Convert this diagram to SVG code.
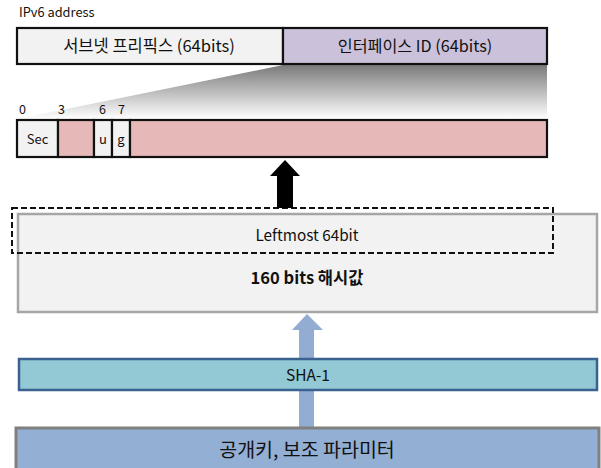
<svg xmlns="http://www.w3.org/2000/svg" width="601" height="468" viewBox="0 0 601 468">
<style>
text{font-family:"Noto Sans CJK KR","Liberation Sans",sans-serif;fill:#111}
.c{text-anchor:middle}
.bk{stroke:#111;stroke-width:2.2}
</style>
<defs>
<linearGradient id="fade" x1="0" y1="0" x2="0" y2="1">
<stop offset="0" stop-color="#7a7a7a"/>
<stop offset="1" stop-color="#ffffff"/>
</linearGradient>
</defs>
<rect width="601" height="468" fill="#fff"/>
<text x="19" y="17" font-size="12.8">IPv6 address</text>
<path d="M283,65 L547,65 L547,119 L17,119 Z" fill="url(#fade)"/>
<g id="ipv6">
<rect x="17" y="28" width="266" height="36" fill="#f2f2f2" class="bk"/>
<rect x="283" y="28" width="264" height="36" fill="#ccc1da" class="bk"/>
<text x="149" y="52" font-size="16.5" class="c">서브넷 프리픽스 (64bits)</text>
<text x="415" y="52" font-size="16.2" class="c">인터페이스 ID (64bits)</text>
</g>
<g id="iid" font-size="12.5">
<text x="19" y="114">0</text>
<text x="58" y="114">3</text>
<text x="99" y="114">6</text>
<text x="118" y="114">7</text>
<rect x="17" y="120" width="41" height="37" fill="#f2f2f2" class="bk"/>
<rect x="58" y="120" width="36" height="37" fill="#e6b8b7" class="bk"/>
<rect x="94" y="120" width="18" height="37" fill="#f2f2f2" class="bk"/>
<rect x="112" y="120" width="18" height="37" fill="#f2f2f2" class="bk"/>
<rect x="130" y="120" width="417" height="37" fill="#e6b8b7" class="bk"/>
<text x="37.5" y="144" font-size="13" class="c">Sec</text>
<text x="103" y="144" font-size="13" class="c">u</text>
<text x="121" y="144" font-size="13" class="c">g</text>
</g>
<g id="hash">
<rect x="18" y="214" width="579" height="98" fill="#f2f2f2" stroke="#a6a6a6" stroke-width="2.5"/>
<text x="307" y="241" font-size="15.3" class="c">Leftmost 64bit</text>
<text x="307" y="284" font-size="16.5" font-weight="bold" class="c">160 bits 해시값</text>
</g>
<g id="leftmost">
<rect x="12" y="208" width="541" height="45" fill="none" stroke="#111" stroke-width="2" stroke-dasharray="6,3"/>
</g>
<g id="connectors">
<path d="M285,160 L300,176 L293,176 L293,208 L277,208 L277,176 L270,176 Z" fill="#000"/>
<path d="M307,314 L323,330 L314,330 L314,429 L299,429 L299,330 L292,330 Z" fill="#92acd2"/>
</g>
<g id="sha1">
<rect x="19" y="359" width="578" height="31" fill="#92c9d5" stroke="#3a6291" stroke-width="2.5"/>
<text x="308" y="381" font-size="15.5" class="c">SHA-1</text>
</g>
<g id="input">
<rect x="16" y="428" width="583" height="42" fill="#93afd4" stroke="#808080" stroke-width="3"/>
<text x="307" y="457" font-size="19.5" class="c">공개키, 보조 파라미터</text>
</g>
</svg>
